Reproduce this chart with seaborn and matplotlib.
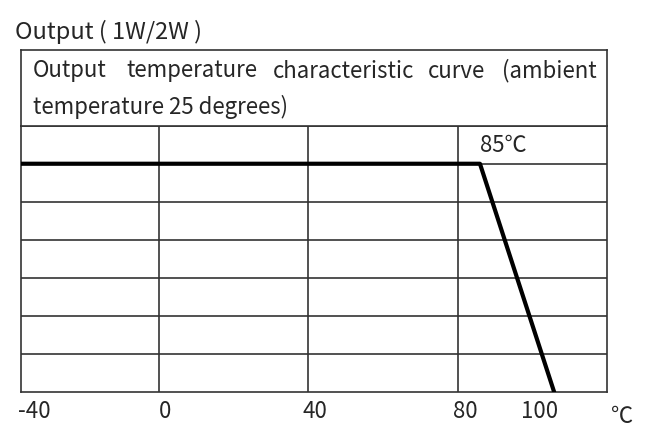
import numpy as np
import pandas as pd
import matplotlib.pyplot as plt
import seaborn as sns

# 降额曲线数据 (温度 ℃ -> 输出 %)
temp_c = [-37.2, 86.0, 105.9]
output_pct = [100, 100, 0]

# x 轴刻度文字（原图文字位置略偏离网格线）
tick_labels = ['-40', '0', '40', '80', '100']
tick_pos = [-33.6, 1.5, 41.8, 82.2, 101.9]
grid_x = [0, 40, 80]

title = 'Output ( 1W/2W )'
head_line1 = ['Output', 'temperature', 'characteristic', 'curve', '(ambient']
head_line1_px = [33, 126, 273, 428, 502]
head_line2 = 'temperature 25 degrees)'

sns.set_style('white')
plt.rcParams['font.family'] = ['Noto Sans CJK SC', 'DejaVu Sans']

W, H = 660, 440
fig = plt.figure(figsize=(6.6, 4.4), dpi=100)

left = 20.7 / W
width = (606.7 - 20.7) / W
bottom = 1 - 392 / H
top = 1 - 125.7 / H
head_top = 1 - 50 / H

ax = fig.add_axes([left, bottom, width, top - bottom])
hax = fig.add_axes([left, top, width, head_top - top])

df = pd.DataFrame({'temp': temp_c, 'out': output_pct})
sns.lineplot(data=df, x='temp', y='out', ax=ax, color='black', lw=3, zorder=5)

ax.set_xlim(-37.2, 120)
ax.set_ylim(0, 700 / 6)
ax.set_xticks(grid_x)
ax.set_yticks(np.arange(1, 7) * 100 / 6)
ax.grid(True, color='#333333', lw=1.2)
ax.tick_params(which='major', length=0, labelbottom=False, labelleft=False)
ax.set_xticks(tick_pos, minor=True)
ax.set_xticklabels(tick_labels, minor=True, fontsize=16)
ax.tick_params(which='minor', length=0, pad=6)
ax.set_xlabel('')
ax.set_ylabel('')

ax.text(86.0, 108, '85℃', fontsize=16, va='center', ha='left')
ax.text(124.2, -0.05, '℃', fontsize=16, va='top', ha='center',
        transform=ax.get_xaxis_transform(), clip_on=False)

hax.set_xticks([])
hax.set_yticks([])
for a in (ax, hax):
    for s in a.spines.values():
        s.set_visible(True)
        s.set_color('#333333')
        s.set_linewidth(1.2)

fig.text(15 / W, 1 - 32 / H, title, fontsize=17, va='center')
for word, px in zip(head_line1, head_line1_px):
    fig.text(px / W, 1 - 71 / H, word, fontsize=16, va='center')
fig.text(33 / W, 1 - 107 / H, head_line2, fontsize=16, va='center')

fig.savefig('out.png', dpi=100)
